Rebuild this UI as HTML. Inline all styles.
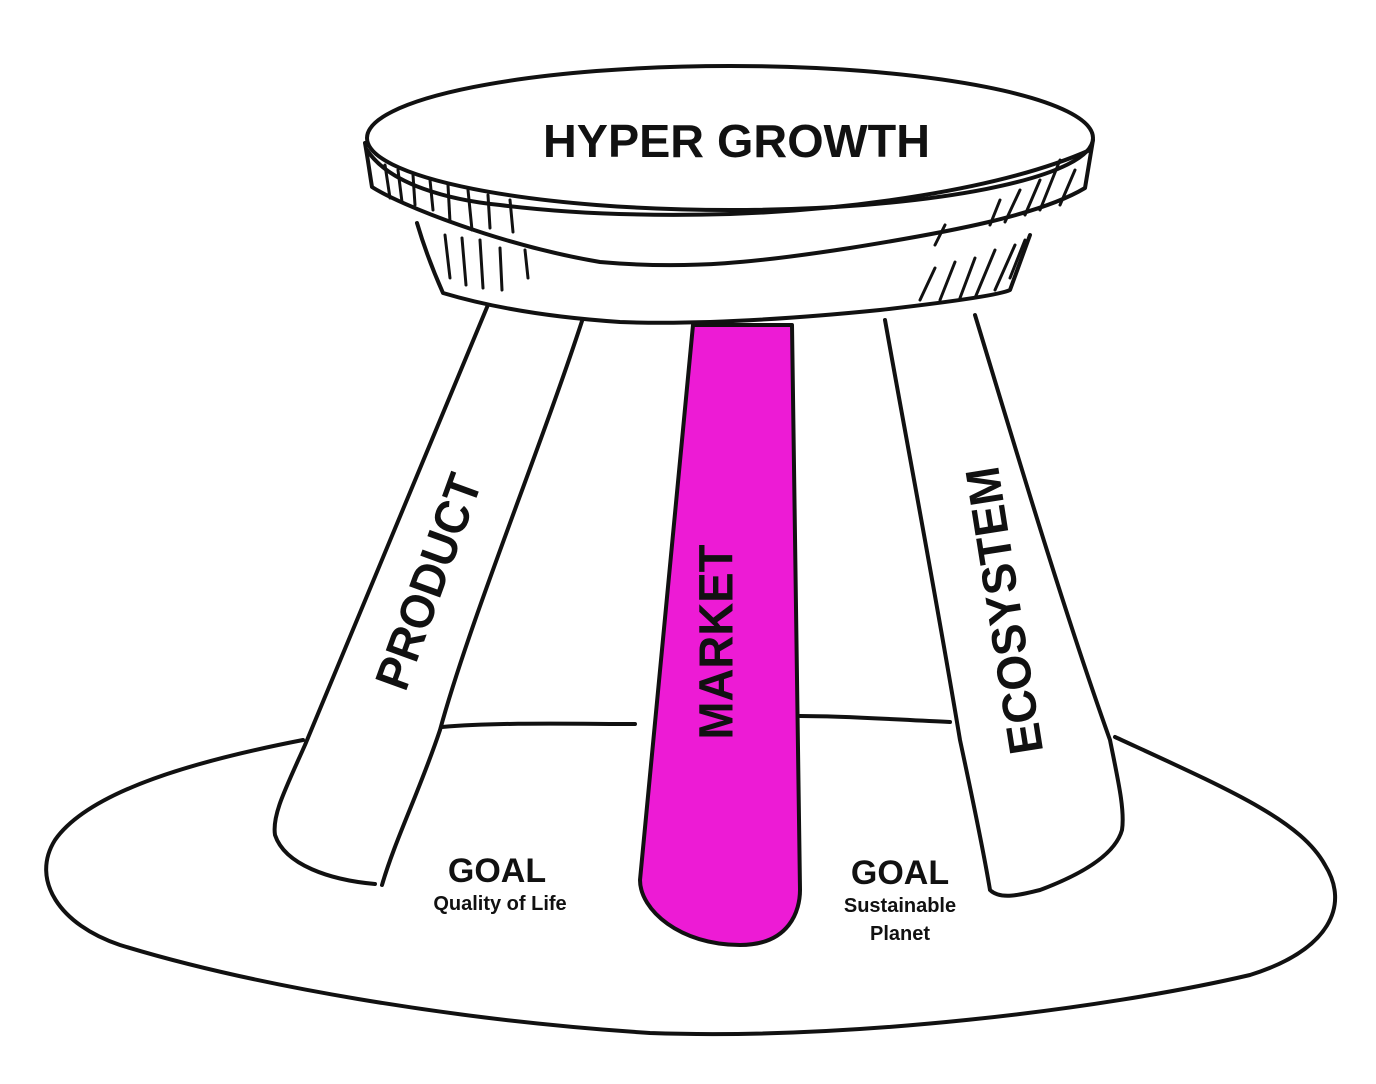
<!DOCTYPE html>
<html><head><meta charset="utf-8"><style>
html,body{margin:0;padding:0;background:#fff;}
svg{display:block;}
text{font-family:"Liberation Sans",Arial,sans-serif;font-weight:bold;fill:#111;}
</style></head><body>
<svg width="1376" height="1084" viewBox="0 0 1376 1084" xmlns="http://www.w3.org/2000/svg">
<g fill="none" stroke="#111" stroke-width="4" stroke-linecap="round" stroke-linejoin="round">
<path d="M303,740 C200,760 90,790 55,840 C30,880 60,925 120,945 C250,985 450,1020 650,1033 C850,1040 1100,1010 1250,975 C1330,950 1350,905 1325,865 C1300,820 1230,790 1115,737"/>
<path d="M442,727 C500,722 580,724 635,724"/>
<path d="M800,716 C850,716 900,720 950,722"/>
<path d="M490,300 L305,745 C285,790 272,815 275,835 C285,865 330,880 375,884" fill="#fff"/>
<path d="M583,318 C540,450 470,620 440,730 C420,790 395,840 382,885"/>
<path d="M885,320 C910,460 935,590 960,740 C975,810 985,860 990,890 C1000,900 1020,895 1040,890 C1080,875 1115,855 1122,830 C1125,810 1118,780 1110,740 C1060,600 1010,430 975,315"/>
<path d="M693,325 L640,880 C640,910 680,945 740,945 C790,945 800,910 800,890 L792,325 Z" fill="#ED1BD5"/>
<path d="M417,223 C425,250 435,275 443,293 C500,310 560,318 620,322 C700,325 800,318 880,310 C950,302 1000,295 1010,290 L1030,235" fill="#fff"/>
<path d="M365,143 C368,160 370,175 372,187 C400,205 500,245 600,262 C690,270 760,262 850,248 C950,232 1040,215 1085,188 L1093,140" fill="#fff"/>
<ellipse cx="730" cy="138" rx="363" ry="72" fill="#fff"/>
<path d="M367,150 C390,185 450,200 500,205 C580,215 660,216 730,214 C850,210 1000,190 1090,150"/>
<g stroke-width="3">
<path d="M385,165 L390,198"/><path d="M398,170 L402,202"/><path d="M413,175 L415,205"/><path d="M430,180 L433,210"/><path d="M448,185 L450,222"/><path d="M468,190 L472,230"/><path d="M488,195 L490,228"/><path d="M510,200 L513,232"/>
<path d="M445,235 L450,278"/><path d="M462,238 L466,285"/><path d="M480,240 L483,288"/><path d="M500,248 L502,290"/><path d="M525,250 L528,278"/>
<path d="M1060,160 L1040,210"/><path d="M1040,180 L1025,215"/><path d="M1020,190 L1005,222"/><path d="M1075,170 L1060,205"/><path d="M1000,200 L990,225"/><path d="M945,225 L935,245"/>
<path d="M1015,245 L995,290"/><path d="M995,250 L975,298"/><path d="M975,258 L960,298"/><path d="M955,262 L940,300"/><path d="M935,268 L920,300"/><path d="M1025,240 L1010,278"/>
</g>
</g>
<text x="543" y="157" font-size="46" textLength="387" lengthAdjust="spacingAndGlyphs">HYPER GROWTH</text>
<text transform="translate(432,583) rotate(-70)" font-size="48" text-anchor="middle" dominant-baseline="middle" textLength="225" lengthAdjust="spacingAndGlyphs">PRODUCT</text>
<text transform="translate(720,642) rotate(-90)" font-size="48" text-anchor="middle" dominant-baseline="middle" textLength="195" lengthAdjust="spacingAndGlyphs">MARKET</text>
<text transform="translate(1008,610) rotate(-99)" font-size="48" text-anchor="middle" dominant-baseline="middle" textLength="290" lengthAdjust="spacingAndGlyphs">ECOSYSTEM</text>
<text x="497" y="882" font-size="34" text-anchor="middle">GOAL</text>
<text x="500" y="910" font-size="20" text-anchor="middle">Quality of Life</text>
<text x="900" y="884" font-size="34" text-anchor="middle">GOAL</text>
<text x="900" y="912" font-size="20" text-anchor="middle">Sustainable</text>
<text x="900" y="940" font-size="20" text-anchor="middle">Planet</text>
</svg>
</body></html>
